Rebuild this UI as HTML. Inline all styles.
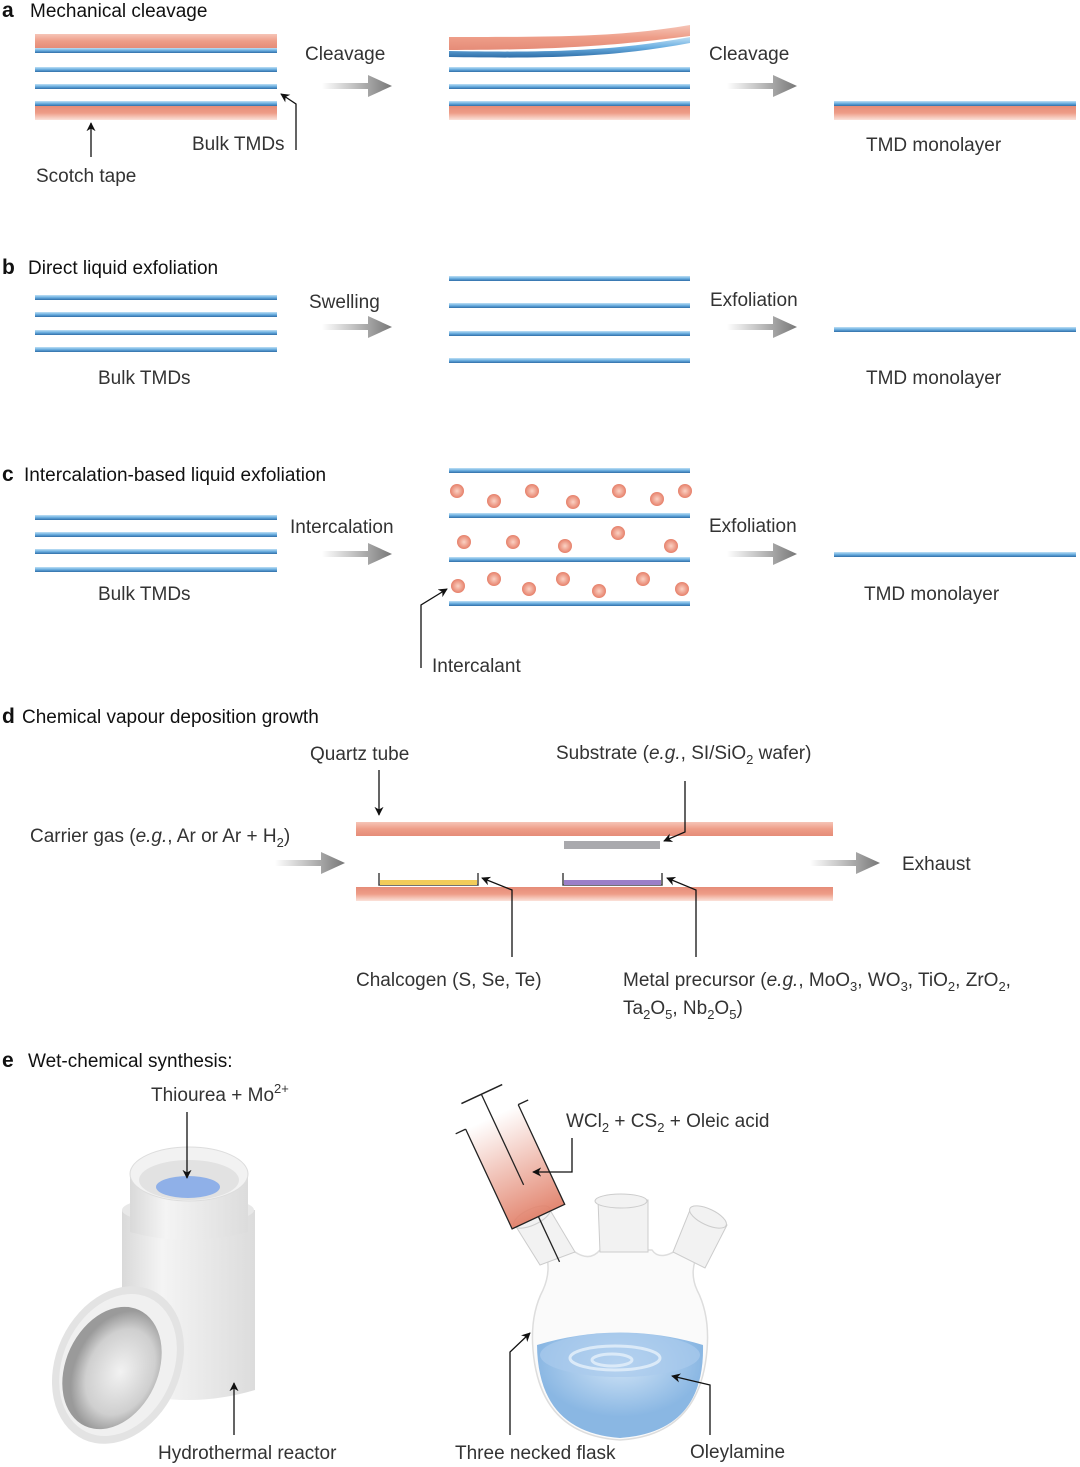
<!DOCTYPE html>
<html><head><meta charset="utf-8"><style>
html,body{margin:0;padding:0;background:#fff}
svg{display:block}
text{font-family:"Liberation Sans",sans-serif;fill:#333;font-size:19px}
.h{fill:#111;font-size:19px}
.b{font-weight:bold;font-size:21px;fill:#111}
</style></head><body>
<svg width="1080" height="1467" viewBox="0 0 1080 1467" xmlns="http://www.w3.org/2000/svg">
<defs>
<linearGradient id="bl" x1="0" y1="0" x2="0" y2="1"><stop offset="0" stop-color="#bfe0f5"/><stop offset="0.5" stop-color="#6aaee0"/><stop offset="1" stop-color="#2f6ea8"/></linearGradient>
<linearGradient id="rd" x1="0" y1="0" x2="0" y2="1"><stop offset="0" stop-color="#f6c5b7"/><stop offset="0.5" stop-color="#ee9d88"/><stop offset="1" stop-color="#e58c78"/></linearGradient>
<linearGradient id="rd2" x1="0" y1="0" x2="0" y2="1"><stop offset="0" stop-color="#e58c78"/><stop offset="0.5" stop-color="#ee9d88"/><stop offset="1" stop-color="#fbe2da"/></linearGradient>
<linearGradient id="ar" x1="0" y1="0" x2="1" y2="0"><stop offset="0" stop-color="#fff"/><stop offset="1" stop-color="#777"/></linearGradient>
<radialGradient id="dot"><stop offset="0" stop-color="#fbd2c4"/><stop offset="1" stop-color="#e6806a"/></radialGradient>
<linearGradient id="syr" x1="0" y1="0" x2="0" y2="1"><stop offset="0" stop-color="#fff"/><stop offset="1" stop-color="#e07a62"/></linearGradient>
<linearGradient id="cyl" x1="0" y1="0" x2="1" y2="0"><stop offset="0" stop-color="#d9d9d9"/><stop offset="0.3" stop-color="#f4f4f4"/><stop offset="1" stop-color="#dcdcdc"/></linearGradient>
<radialGradient id="inner" cx="0.6" cy="0.5"><stop offset="0" stop-color="#f2f2f2"/><stop offset="0.7" stop-color="#cfcfcf"/><stop offset="1" stop-color="#9a9a9a"/></radialGradient>
<radialGradient id="liq" cx="0.5" cy="0.3"><stop offset="0" stop-color="#cfe3f6"/><stop offset="1" stop-color="#8ab7e3"/></radialGradient>
<marker id="ah" viewBox="0 0 10 10" refX="9" refY="5" markerWidth="7" markerHeight="7" orient="auto"><path d="M0,0L10,5L0,10L3,5z" fill="#111"/></marker>
<symbol id="garr" viewBox="0 0 70 24"><path d="M0,9H46V1L70,12L46,23V15H0z" fill="url(#ar)"/></symbol>
</defs>

<!-- a -->
<text x="2" y="17" class="b">a</text><text x="30" y="17" class="h">Mechanical cleavage</text>
<rect x="35" y="34" width="242" height="14" fill="url(#rd)"/>
<rect x="35" y="48" width="242" height="5" fill="url(#bl)"/>
<rect x="35" y="67" width="242" height="5" fill="url(#bl)"/>
<rect x="35" y="84" width="242" height="5" fill="url(#bl)"/>
<rect x="35" y="101" width="242" height="5" fill="url(#bl)"/>
<rect x="35" y="106" width="242" height="14" fill="url(#rd2)"/>
<path d="M449,37 C560,37 620,37 690,25 L690,36 C620,45 560,50 449,50z" fill="url(#rd)"/>
<path d="M449,51 C560,53 620,50 690,37 L690,43 C620,56 560,59 449,57z" fill="url(#bl)"/>
<rect x="449" y="67" width="241" height="5" fill="url(#bl)"/>
<rect x="449" y="84" width="241" height="5" fill="url(#bl)"/>
<rect x="449" y="101" width="241" height="5" fill="url(#bl)"/>
<rect x="449" y="106" width="241" height="14" fill="url(#rd2)"/>
<rect x="834" y="101" width="242" height="5" fill="url(#bl)"/>
<rect x="834" y="106" width="242" height="14" fill="url(#rd2)"/>
<use href="#garr" x="322" y="74" width="70" height="24"/>
<use href="#garr" x="727" y="74" width="70" height="24"/>
<text x="305" y="60">Cleavage</text><text x="709" y="60">Cleavage</text>
<text x="192" y="150">Bulk TMDs</text><text x="36" y="182">Scotch tape</text>
<text x="866" y="151">TMD monolayer</text>
<path d="M91,157V123" stroke="#111" stroke-width="1.3" marker-end="url(#ah)"/>
<path d="M296,150V104L281,94" fill="none" stroke="#111" stroke-width="1.3" marker-end="url(#ah)"/>

<!-- b -->
<text x="2" y="274" class="b">b</text><text x="28" y="274" class="h">Direct liquid exfoliation</text>
<rect x="35" y="295" width="242" height="5" fill="url(#bl)"/>
<rect x="35" y="312" width="242" height="5" fill="url(#bl)"/>
<rect x="35" y="330" width="242" height="5" fill="url(#bl)"/>
<rect x="35" y="347" width="242" height="5" fill="url(#bl)"/>
<rect x="449" y="276" width="241" height="5" fill="url(#bl)"/>
<rect x="449" y="303" width="241" height="5" fill="url(#bl)"/>
<rect x="449" y="331" width="241" height="5" fill="url(#bl)"/>
<rect x="449" y="358" width="241" height="5" fill="url(#bl)"/>
<rect x="834" y="327" width="242" height="5" fill="url(#bl)"/>
<use href="#garr" x="322" y="315" width="70" height="24"/>
<use href="#garr" x="727" y="315" width="70" height="24"/>
<text x="309" y="308">Swelling</text><text x="710" y="306">Exfoliation</text>
<text x="98" y="384">Bulk TMDs</text><text x="866" y="384">TMD monolayer</text>

<!-- c -->
<text x="2" y="481" class="b">c</text><text x="24" y="481" class="h">Intercalation-based liquid exfoliation</text>
<rect x="35" y="515" width="242" height="5" fill="url(#bl)"/>
<rect x="35" y="532" width="242" height="5" fill="url(#bl)"/>
<rect x="35" y="549" width="242" height="5" fill="url(#bl)"/>
<rect x="35" y="567" width="242" height="5" fill="url(#bl)"/>
<rect x="449" y="468" width="241" height="5" fill="url(#bl)"/>
<rect x="449" y="513" width="241" height="5" fill="url(#bl)"/>
<rect x="449" y="557" width="241" height="5" fill="url(#bl)"/>
<rect x="449" y="601" width="241" height="5" fill="url(#bl)"/>
<g fill="url(#dot)">
<circle cx="457" cy="491" r="7"/><circle cx="494" cy="501" r="7"/><circle cx="532" cy="491" r="7"/><circle cx="573" cy="502" r="7"/><circle cx="619" cy="491" r="7"/><circle cx="657" cy="499" r="7"/><circle cx="685" cy="491" r="7"/>
<circle cx="464" cy="542" r="7"/><circle cx="513" cy="542" r="7"/><circle cx="565" cy="546" r="7"/><circle cx="618" cy="533" r="7"/><circle cx="671" cy="546" r="7"/>
<circle cx="458" cy="586" r="7"/><circle cx="494" cy="579" r="7"/><circle cx="529" cy="589" r="7"/><circle cx="563" cy="579" r="7"/><circle cx="599" cy="591" r="7"/><circle cx="643" cy="579" r="7"/><circle cx="682" cy="589" r="7"/>
</g>
<rect x="834" y="552" width="242" height="5" fill="url(#bl)"/>
<use href="#garr" x="322" y="542" width="70" height="24"/>
<use href="#garr" x="727" y="542" width="70" height="24"/>
<text x="290" y="533">Intercalation</text><text x="709" y="532">Exfoliation</text>
<text x="98" y="600">Bulk TMDs</text><text x="864" y="600">TMD monolayer</text>
<text x="432" y="672">Intercalant</text>
<path d="M421,668V605L447,589" fill="none" stroke="#111" stroke-width="1.3" marker-end="url(#ah)"/>

<!-- d -->
<text x="2" y="723" class="b">d</text><text x="22" y="723" class="h">Chemical vapour deposition growth</text>
<text x="310" y="760">Quartz tube</text>
<text x="556" y="759">Substrate (<tspan font-style="italic">e.g.</tspan>, SI/SiO<tspan font-size="13" dy="5">2</tspan><tspan dy="-5"> wafer)</tspan></text>
<text x="30" y="842">Carrier gas (<tspan font-style="italic">e.g.</tspan>, Ar or Ar + H<tspan font-size="13" dy="5">2</tspan><tspan dy="-5">)</tspan></text>
<rect x="356" y="822" width="477" height="14" fill="url(#rd)"/>
<rect x="356" y="887" width="477" height="14" fill="url(#rd2)"/>
<rect x="564" y="841" width="96" height="8" fill="#a9a9ad"/>
<path d="M379,873V885H478V873" fill="none" stroke="#444" stroke-width="1.5"/>
<rect x="380" y="880" width="97" height="5" fill="#f2cc5a"/>
<path d="M563,873V885H662V873" fill="none" stroke="#444" stroke-width="1.5"/>
<rect x="564" y="880" width="97" height="5" fill="#9b7fc8"/>
<use href="#garr" x="275" y="851" width="70" height="24"/>
<use href="#garr" x="810" y="851" width="70" height="24"/>
<text x="902" y="870">Exhaust</text>
<path d="M379,770V815" stroke="#111" stroke-width="1.3" marker-end="url(#ah)"/>
<path d="M685,781V832L664,841" fill="none" stroke="#111" stroke-width="1.3" marker-end="url(#ah)"/>
<path d="M512,957V890L482,878" fill="none" stroke="#111" stroke-width="1.3" marker-end="url(#ah)"/>
<path d="M696,957V890L667,878" fill="none" stroke="#111" stroke-width="1.3" marker-end="url(#ah)"/>
<text x="356" y="986">Chalcogen (S, Se, Te)</text>
<text x="623" y="986">Metal precursor (<tspan font-style="italic">e.g.</tspan>, MoO<tspan font-size="13" dy="5">3</tspan><tspan dy="-5">, WO</tspan><tspan font-size="13" dy="5">3</tspan><tspan dy="-5">, TiO</tspan><tspan font-size="13" dy="5">2</tspan><tspan dy="-5">, ZrO</tspan><tspan font-size="13" dy="5">2</tspan><tspan dy="-5">,</tspan></text>
<text x="623" y="1014">Ta<tspan font-size="13" dy="5">2</tspan><tspan dy="-5">O</tspan><tspan font-size="13" dy="5">5</tspan><tspan dy="-5">, Nb</tspan><tspan font-size="13" dy="5">2</tspan><tspan dy="-5">O</tspan><tspan font-size="13" dy="5">5</tspan><tspan dy="-5">)</tspan></text>

<!-- e -->
<text x="2" y="1067" class="b">e</text><text x="28" y="1067" class="h">Wet-chemical synthesis:</text>
<text x="151" y="1101">Thiourea + Mo<tspan font-size="13" dy="-8">2+</tspan></text>
<!-- reactor -->
<path d="M122,1210 V1390 Q188,1410 255,1390 V1210z" fill="url(#cyl)"/>
<ellipse cx="188" cy="1210" rx="66" ry="14" fill="#e8e8e8"/>
<path d="M130,1175 V1232 Q188,1248 248,1232 V1175z" fill="url(#cyl)"/>
<ellipse cx="189" cy="1174" rx="59" ry="27" fill="#f2f2f2" stroke="#ddd"/>
<ellipse cx="189" cy="1180" rx="50" ry="20" fill="#e2e2e2"/>
<ellipse cx="188" cy="1187" rx="32" ry="11" fill="#8fb0e8"/>
<ellipse cx="118" cy="1365" rx="62" ry="82" transform="rotate(25 118 1365)" fill="#e3e3e3"/>
<ellipse cx="118" cy="1365" rx="55" ry="74" transform="rotate(25 118 1365)" fill="#f0f0f0"/>
<ellipse cx="112" cy="1368" rx="46" ry="64" transform="rotate(25 112 1368)" fill="url(#inner)"/>
<path d="M187,1112V1178" stroke="#111" stroke-width="1.3" marker-end="url(#ah)"/>
<path d="M234,1435V1383" stroke="#111" stroke-width="1.3" marker-end="url(#ah)"/>
<text x="158" y="1459">Hydrothermal reactor</text>
<!-- flask -->
<path d="M545,1250 Q552,1270 543,1290 Q530,1315 533,1350 Q540,1435 620,1440 Q700,1435 707,1350 Q710,1315 697,1290 Q688,1270 700,1250 L680,1248 Q660,1262 652,1250 L600,1250 Q590,1262 575,1252z" fill="#fafafa" stroke="#ddd" stroke-width="1.5"/>
<path d="M537,1345 Q620,1320 703,1345 Q705,1432 620,1438 Q538,1432 537,1345z" fill="url(#liq)"/>
<ellipse cx="620" cy="1355" rx="80" ry="22" fill="#a9cbec" opacity="0.7"/>
<ellipse cx="615" cy="1358" rx="45" ry="12" fill="none" stroke="#dbeaf8" stroke-width="3"/>
<ellipse cx="612" cy="1360" rx="20" ry="6" fill="none" stroke="#dbeaf8" stroke-width="3"/>
<g fill="#f2f2f2" stroke="#ccc">
<path d="M598,1200 H648 V1252 H600z"/><ellipse cx="621" cy="1201" rx="26" ry="7"/>
<path d="M515,1225 L550,1210 L575,1252 L540,1265z"/><ellipse cx="532" cy="1217" rx="20" ry="8" transform="rotate(-25 532 1217)"/>
<path d="M690,1210 L727,1225 L705,1268 L673,1252z"/><ellipse cx="708" cy="1217" rx="20" ry="8" transform="rotate(25 708 1217)"/>
</g>
<!-- syringe -->
<g transform="rotate(-25 520 1170)">
<rect x="488" y="1110" width="58" height="110" fill="url(#syr)" opacity="0.9"/>
<path d="M488,1110V1220H546V1110" fill="none" stroke="#222" stroke-width="1.3"/>
<path d="M477,1110H488M546,1110H557" stroke="#222" stroke-width="1.3"/>
<path d="M517,1085V1185" stroke="#222" stroke-width="1.3"/>
<path d="M495,1085H540" stroke="#222" stroke-width="1.5"/>
<path d="M517,1220V1270" stroke="#222" stroke-width="1.3"/>
</g>
<text x="566" y="1127">WCl<tspan font-size="13" dy="5">2</tspan><tspan dy="-5"> + CS</tspan><tspan font-size="13" dy="5">2</tspan><tspan dy="-5"> + Oleic acid</tspan></text>
<path d="M572,1138V1172H533" fill="none" stroke="#111" stroke-width="1.3" marker-end="url(#ah)"/>
<path d="M510,1435V1352L530,1333" fill="none" stroke="#111" stroke-width="1.3" marker-end="url(#ah)"/>
<path d="M710,1435V1385L672,1376" fill="none" stroke="#111" stroke-width="1.3" marker-end="url(#ah)"/>
<text x="455" y="1459">Three necked flask</text>
<text x="690" y="1458">Oleylamine</text>
</svg>
</body></html>
